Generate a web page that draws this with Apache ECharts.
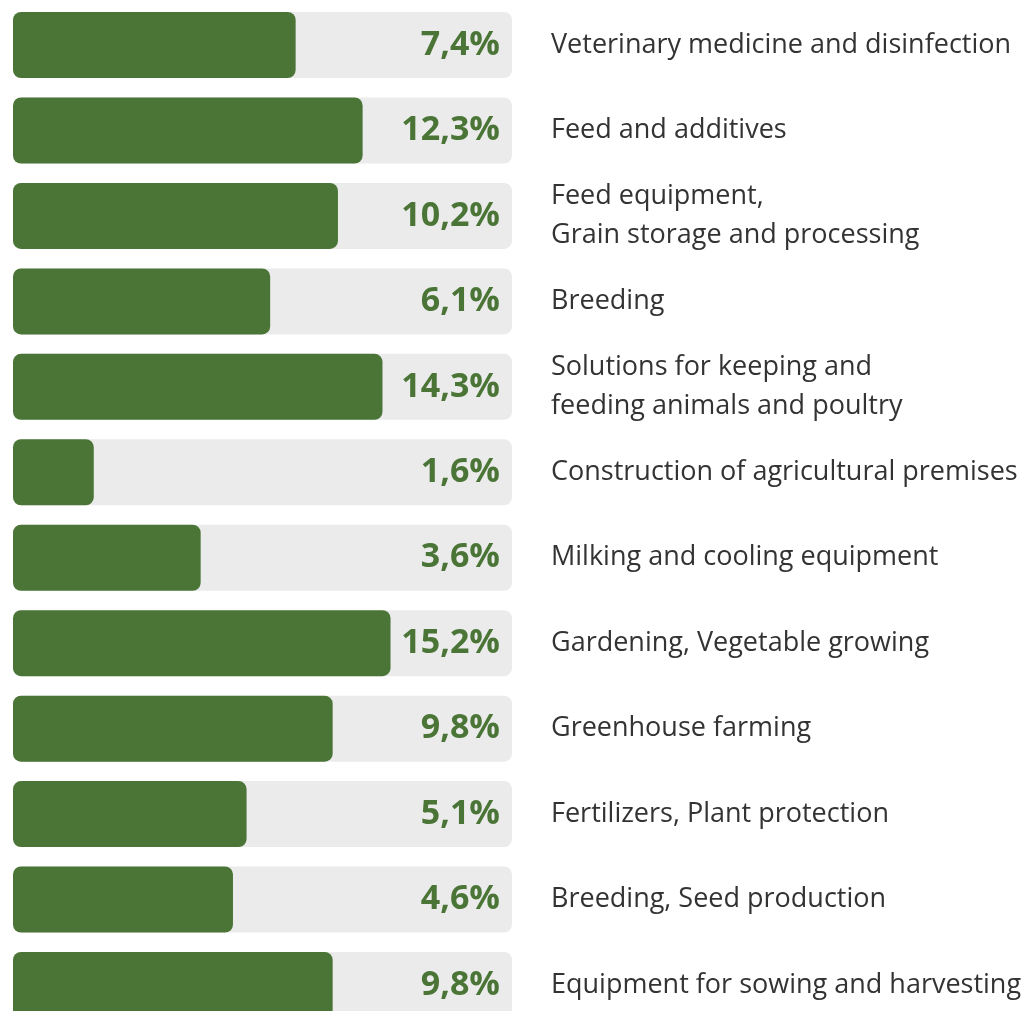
<!DOCTYPE html>
<html>
<head>
<meta charset="utf-8">
<style>
  html, body { margin: 0; padding: 0; background: #ffffff; }
  #chart { width: 1027px; height: 1011px; }
</style>
<script src="https://cdn.jsdelivr.net/npm/echarts@6/dist/echarts.min.js"></script>
</head>
<body>
<div id="chart"></div>
<script>
const categories = [
  'Veterinary medicine and disinfection',
  'Feed and additives',
  'Feed equipment,\nGrain storage and processing',
  'Breeding',
  'Solutions for keeping and\nfeeding animals and poultry',
  'Construction of agricultural premises',
  'Milking and cooling equipment',
  'Gardening, Vegetable growing',
  'Greenhouse farming',
  'Fertilizers, Plant protection',
  'Breeding, Seed production',
  'Equipment for sowing and harvesting'
];
const values = [7.4, 12.3, 10.2, 6.1, 14.3, 1.6, 3.6, 15.2, 9.8, 5.1, 4.6, 9.8];
const valueLabels = values.map(v => v.toFixed(1).replace('.', ',') + '%');

// visual (logarithmic) scale extent of the bar track
const AXIS_MIN = 0.867;
const AXIS_MAX = 38.2;

const GREEN = '#4a7536';
const chart = echarts.init(document.getElementById('chart'), null, { renderer: 'canvas' });
chart.setOption({
  animation: false,
  backgroundColor: '#ffffff',
  grid: {
    left: 13, right: 515, top: 2.3, bottom: -16.7,
    containLabel: false,
    outerBoundsMode: 'none'
  },
  xAxis: {
    type: 'log',
    logBase: Math.E,
    min: AXIS_MIN,
    max: AXIS_MAX,
    startValue: AXIS_MIN,
    show: false
  },
  yAxis: [
    {
      type: 'category',
      data: valueLabels,
      inverse: true,
      position: 'right',
      axisLine: { show: false },
      axisTick: { show: false },
      splitLine: { show: false },
      axisLabel: {
        inside: true,
        interval: 0,
        margin: 12,
        color: GREEN,
        fontFamily: 'Open Sans',
        fontWeight: 'bold',
        fontSize: 34
      },
      z: 10
    },
    {
      type: 'category',
      data: categories,
      inverse: true,
      position: 'right',
      axisLine: { show: false },
      axisTick: { show: false },
      splitLine: { show: false },
      axisLabel: {
        interval: 0,
        margin: 39,
        color: '#333333',
        fontFamily: 'Open Sans',
        fontSize: 27,
        lineHeight: 39,
        align: 'left'
      }
    }
  ],
  series: [
    {
      type: 'bar',
      yAxisIndex: 0,
      data: values,
      barWidth: 66,
      showBackground: true,
      backgroundStyle: { color: '#ebebeb', borderRadius: 8 },
      itemStyle: { color: GREEN, borderRadius: 8 },
      z: 2
    }
  ]
});
</script>
</body>
</html>
